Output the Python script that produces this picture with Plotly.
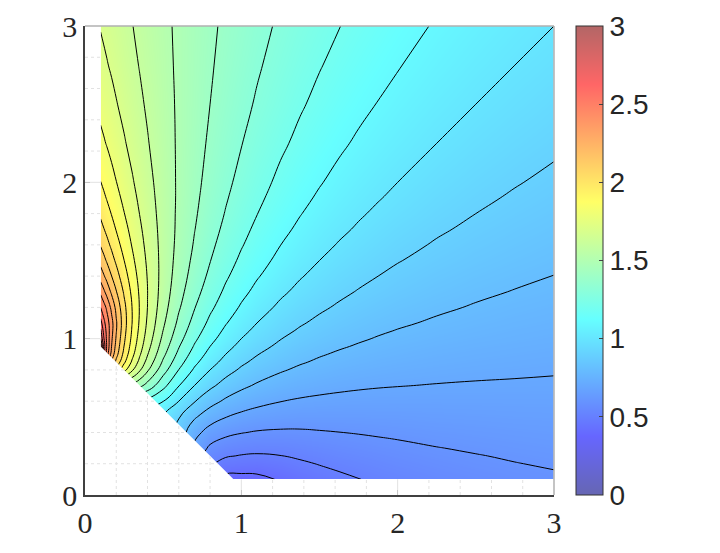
import plotly.graph_objects as go

# Grid nodes of the field
x_nodes = [0.1, 0.12, 0.14, 0.17, 0.2, 0.25, 0.3, 0.35, 0.4, 0.5, 0.6, 0.7, 0.8, 0.9, 1, 1.1, 1.25, 1.375, 1.5, 1.625, 1.75, 1.875, 2, 2.25, 2.5, 2.75, 3]
y_nodes = [0.1, 0.15, 0.2, 0.25, 0.3, 0.4, 0.5, 0.6, 0.7, 0.8, 0.85, 0.9, 0.95, 1, 1.05, 1.1, 1.2, 1.3, 1.4, 1.5, 1.6, 1.7, 1.8, 1.9, 2, 2.25, 2.5, 2.75, 3]

_ = None  # outside the domain

# Values estimated from the contour lines, one list per y node
z_y010 = [_, _, _, _, _, _, _, _, _, _, _, _, 0.440, 0.351, 0.362, 0.375, 0.408, 0.438, 0.462, 0.482, 0.498, 0.513, 0.526, 0.548, 0.565, 0.579, 0.590]
z_y015 = [_, _, _, _, _, _, _, _, _, _, _, 0.672, 0.477, 0.421, 0.413, 0.412, 0.437, 0.462, 0.483, 0.500, 0.515, 0.529, 0.540, 0.560, 0.576, 0.588, 0.598]
z_y020 = [_, _, _, _, _, _, _, _, _, _, 1.154, 0.659, 0.511, 0.468, 0.457, 0.452, 0.467, 0.487, 0.504, 0.519, 0.533, 0.544, 0.555, 0.573, 0.587, 0.598, 0.607]
z_y025 = [_, _, _, _, _, _, _, _, _, _, 0.988, 0.662, 0.546, 0.508, 0.495, 0.490, 0.498, 0.512, 0.526, 0.539, 0.550, 0.560, 0.570, 0.585, 0.597, 0.607, 0.615]
z_y030 = [_, _, _, _, _, _, _, _, _, 1.379, 0.901, 0.677, 0.582, 0.546, 0.532, 0.525, 0.528, 0.538, 0.548, 0.559, 0.568, 0.577, 0.584, 0.598, 0.608, 0.617, 0.624]
z_y040 = [_, _, _, _, _, _, _, _, 1.000, 1.011, 0.858, 0.733, 0.660, 0.623, 0.604, 0.593, 0.588, 0.589, 0.594, 0.599, 0.604, 0.609, 0.614, 0.623, 0.630, 0.636, 0.641]
z_y050 = [_, _, _, _, _, _, 0.725, 0.893, 0.989, 1.000, 0.907, 0.813, 0.746, 0.703, 0.677, 0.660, 0.646, 0.640, 0.639, 0.639, 0.640, 0.642, 0.643, 0.648, 0.651, 0.655, 0.657]
z_y060 = [_, _, _, _, 0.867, 1.012, 1.110, 1.159, 1.166, 1.102, 1.000, 0.906, 0.835, 0.784, 0.750, 0.726, 0.702, 0.690, 0.683, 0.678, 0.675, 0.674, 0.673, 0.672, 0.673, 0.673, 0.674]
z_y070 = [_, 1.449, 1.478, 1.505, 1.518, 1.511, 1.478, 1.426, 1.365, 1.230, 1.104, 1.000, 0.921, 0.863, 0.820, 0.789, 0.757, 0.739, 0.726, 0.717, 0.710, 0.705, 0.702, 0.697, 0.694, 0.692, 0.690]
z_y080 = [2.272, 2.198, 2.130, 2.038, 1.956, 1.832, 1.718, 1.613, 1.514, 1.340, 1.198, 1.086, 1.000, 0.935, 0.886, 0.849, 0.809, 0.785, 0.768, 0.754, 0.744, 0.736, 0.730, 0.721, 0.714, 0.710, 0.706]
z_y085 = [2.593, 2.445, 2.326, 2.184, 2.071, 1.918, 1.788, 1.671, 1.566, 1.385, 1.239, 1.124, 1.036, 0.969, 0.917, 0.877, 0.834, 0.808, 0.788, 0.773, 0.761, 0.751, 0.744, 0.733, 0.725, 0.719, 0.714]
z_y090 = [2.850, 2.609, 2.441, 2.264, 2.135, 1.968, 1.832, 1.712, 1.605, 1.422, 1.275, 1.159, 1.069, 1.000, 0.946, 0.904, 0.858, 0.829, 0.807, 0.790, 0.777, 0.766, 0.758, 0.744, 0.735, 0.728, 0.722]
z_y095 = [2.955, 2.666, 2.483, 2.299, 2.167, 1.998, 1.860, 1.741, 1.634, 1.452, 1.306, 1.191, 1.100, 1.029, 0.974, 0.930, 0.881, 0.850, 0.827, 0.808, 0.793, 0.781, 0.771, 0.756, 0.745, 0.737, 0.730]
z_y100 = [2.790, 2.610, 2.477, 2.316, 2.188, 2.018, 1.880, 1.761, 1.656, 1.477, 1.334, 1.219, 1.129, 1.057, 1.000, 0.955, 0.903, 0.870, 0.845, 0.825, 0.809, 0.795, 0.784, 0.767, 0.755, 0.746, 0.738]
z_y105 = [2.720, 2.570, 2.470, 2.332, 2.205, 2.033, 1.894, 1.776, 1.673, 1.498, 1.357, 1.245, 1.154, 1.082, 1.024, 0.978, 0.924, 0.890, 0.863, 0.841, 0.824, 0.809, 0.797, 0.779, 0.765, 0.754, 0.746]
z_y110 = [2.640, 2.530, 2.450, 2.334, 2.211, 2.041, 1.903, 1.787, 1.685, 1.515, 1.378, 1.267, 1.178, 1.106, 1.047, 1.000, 0.944, 0.909, 0.881, 0.858, 0.839, 0.823, 0.810, 0.790, 0.775, 0.763, 0.754]
z_y120 = [2.500, 2.440, 2.380, 2.273, 2.173, 2.027, 1.902, 1.794, 1.699, 1.540, 1.411, 1.305, 1.219, 1.148, 1.089, 1.040, 0.982, 0.944, 0.914, 0.889, 0.868, 0.850, 0.835, 0.812, 0.794, 0.780, 0.769]
z_y130 = [2.377, 2.319, 2.263, 2.182, 2.105, 1.987, 1.881, 1.786, 1.701, 1.555, 1.435, 1.335, 1.252, 1.183, 1.125, 1.076, 1.017, 0.977, 0.945, 0.918, 0.895, 0.876, 0.859, 0.833, 0.813, 0.797, 0.784]
z_y140 = [2.255, 2.210, 2.166, 2.101, 2.039, 1.942, 1.852, 1.770, 1.695, 1.563, 1.452, 1.359, 1.280, 1.213, 1.156, 1.108, 1.048, 1.007, 0.973, 0.945, 0.921, 0.900, 0.882, 0.853, 0.831, 0.814, 0.799]
z_y150 = [2.164, 2.126, 2.089, 2.035, 1.983, 1.901, 1.823, 1.751, 1.685, 1.566, 1.464, 1.377, 1.303, 1.239, 1.183, 1.136, 1.076, 1.035, 1.000, 0.970, 0.945, 0.923, 0.904, 0.873, 0.849, 0.830, 0.814]
z_y160 = [2.092, 2.060, 2.028, 1.981, 1.936, 1.864, 1.796, 1.733, 1.673, 1.566, 1.473, 1.392, 1.321, 1.260, 1.207, 1.160, 1.101, 1.060, 1.025, 0.994, 0.968, 0.945, 0.925, 0.892, 0.866, 0.846, 0.828]
z_y170 = [2.033, 2.004, 1.976, 1.935, 1.895, 1.832, 1.772, 1.715, 1.662, 1.564, 1.479, 1.403, 1.337, 1.279, 1.227, 1.182, 1.124, 1.083, 1.047, 1.017, 0.990, 0.966, 0.945, 0.911, 0.883, 0.861, 0.843]
z_y180 = [1.983, 1.957, 1.932, 1.896, 1.860, 1.803, 1.749, 1.698, 1.650, 1.561, 1.482, 1.412, 1.350, 1.295, 1.245, 1.202, 1.145, 1.104, 1.068, 1.037, 1.010, 0.986, 0.965, 0.929, 0.900, 0.876, 0.856]
z_y190 = [1.939, 1.917, 1.894, 1.861, 1.829, 1.778, 1.729, 1.683, 1.639, 1.558, 1.485, 1.419, 1.361, 1.308, 1.261, 1.219, 1.163, 1.123, 1.088, 1.057, 1.029, 1.005, 0.983, 0.946, 0.915, 0.891, 0.870]
z_y200 = [1.902, 1.881, 1.861, 1.831, 1.802, 1.756, 1.711, 1.669, 1.629, 1.554, 1.486, 1.425, 1.370, 1.320, 1.275, 1.234, 1.180, 1.141, 1.106, 1.075, 1.047, 1.022, 1.000, 0.962, 0.931, 0.905, 0.883]
z_y225 = [1.826, 1.810, 1.794, 1.770, 1.747, 1.709, 1.673, 1.639, 1.606, 1.544, 1.487, 1.435, 1.387, 1.343, 1.303, 1.266, 1.216, 1.179, 1.145, 1.115, 1.087, 1.062, 1.040, 1.000, 0.967, 0.939, 0.915]
z_y250 = [1.770, 1.757, 1.743, 1.724, 1.705, 1.674, 1.644, 1.615, 1.588, 1.535, 1.487, 1.442, 1.400, 1.361, 1.324, 1.291, 1.245, 1.210, 1.178, 1.149, 1.122, 1.097, 1.074, 1.034, 1.000, 0.971, 0.945]
z_y275 = [1.728, 1.716, 1.705, 1.689, 1.672, 1.646, 1.621, 1.596, 1.573, 1.528, 1.485, 1.446, 1.409, 1.374, 1.341, 1.310, 1.268, 1.235, 1.205, 1.177, 1.151, 1.127, 1.105, 1.065, 1.030, 1.000, 0.974]
z_y300 = [1.695, 1.685, 1.676, 1.662, 1.648, 1.625, 1.603, 1.582, 1.561, 1.521, 1.484, 1.449, 1.416, 1.384, 1.355, 1.326, 1.287, 1.257, 1.228, 1.202, 1.177, 1.154, 1.132, 1.092, 1.058, 1.027, 1.000]

z_rows = [z_y010, z_y015, z_y020, z_y025, z_y030, z_y040, z_y050, z_y060, z_y070, z_y080, z_y085, z_y090,
	z_y095, z_y100, z_y105, z_y110, z_y120, z_y130, z_y140, z_y150, z_y160, z_y170, z_y180, z_y190,
	z_y200, z_y225, z_y250, z_y275, z_y300]

# Domain edge, everything outside it stays white
mask_x = [0, 0, 0.1, 0.1, 0.95, 3, 3, 0]
mask_y = [0, 3, 3, 0.95, 0.1, 0.1, 0, 0]

axis_ticks = [0, 1, 2, 3]
grid_steps = [0.2, 0.4, 0.6, 0.8, 1, 1.2, 1.4, 1.6, 1.8, 2, 2.2, 2.4, 2.6, 2.8]
cbar_ticks = [0, 0.5, 1, 1.5, 2, 2.5, 3]
cbar_labels = ["0", "0.5", "1", "1.5", "2", "2.5", "3"]

# jet at 60% opacity
jet_alpha = [
	[0, "rgba(0,0,128,0.6)"],
	[0.125, "rgba(0,0,255,0.6)"],
	[0.375, "rgba(0,255,255,0.6)"],
	[0.625, "rgba(255,255,0,0.6)"],
	[0.875, "rgba(255,0,0,0.6)"],
	[1, "rgba(128,0,0,0.6)"],
]

fig = go.Figure()

fig.add_trace(
	go.Contour(
		x=x_nodes,
		y=y_nodes,
		z=z_rows,
		zmin=0,
		zmax=3,
		colorscale=jet_alpha,
		contours=dict(coloring="heatmap", showlines=False, start=0, end=3, size=0.1),
		line=dict(width=0),
		colorbar=dict(
			x=(576 - 85) / 469,
			xanchor="left",
			xpad=0,
			y=0,
			yanchor="bottom",
			ypad=0,
			len=1,
			thickness=27,
			outlinecolor="#333",
			outlinewidth=1,
			ticks="inside",
			ticklen=4,
			tickcolor="#444",
			tickvals=cbar_ticks,
			ticktext=cbar_labels,
			tickfont=dict(family="Liberation Sans", size=28, color="#262626"),
		),
		hoverinfo="skip",
	)
)

fig.add_trace(
	go.Contour(
		x=x_nodes,
		y=y_nodes,
		z=z_rows,
		zmin=0,
		zmax=3,
		showscale=False,
		contours=dict(coloring="lines", start=0.1, end=3, size=0.1),
		line=dict(color="black", width=1, smoothing=1.3),
		colorscale=[[0, "black"], [1, "black"]],
		hoverinfo="skip",
	)
)

fig.add_trace(
	go.Scatter(
		x=mask_x,
		y=mask_y,
		mode="lines",
		fill="toself",
		fillcolor="white",
		line=dict(width=0, color="white"),
		showlegend=False,
		hoverinfo="skip",
	)
)

# Grid only shows in the white part of the box
for v in grid_steps:
	edge = max(0.1, 1.05 - v)
	major = v in (1, 2)
	style = dict(color="#e2e2e2", width=1, dash="solid" if major else "dot")
	fig.add_shape(type="line", x0=0, x1=edge, y0=v, y1=v, line=style)
	fig.add_shape(type="line", x0=v, x1=v, y0=0, y1=edge, line=style)

# Light top and right edges of the box
fig.add_shape(type="line", xref="paper", yref="paper", x0=0, x1=1, y0=1, y1=1, line=dict(color="#b0b0b0", width=1.5))
fig.add_shape(type="line", xref="paper", yref="paper", x0=1, x1=1, y0=0, y1=1, line=dict(color="#b0b0b0", width=1.5))

axis_style = dict(
	range=[0, 3],
	tickvals=axis_ticks,
	ticktext=[str(t) for t in axis_ticks],
	ticks="inside",
	ticklen=5,
	tickcolor="#404040",
	showgrid=False,
	zeroline=False,
	showline=True,
	linecolor="#404040",
	linewidth=1.5,
	tickfont=dict(family="Liberation Serif", size=30, color="#262626"),
)
fig.update_xaxes(**axis_style)
fig.update_yaxes(**axis_style)

# The page adds an 8px body margin, so the figure is 8px smaller than the window
fig.update_layout(
	width=712,
	height=545,
	margin=dict(l=77, r=166, t=18, b=58, autoexpand=False),
	plot_bgcolor="white",
	paper_bgcolor="white",
	showlegend=False,
)

fig.write_html("out.html")
